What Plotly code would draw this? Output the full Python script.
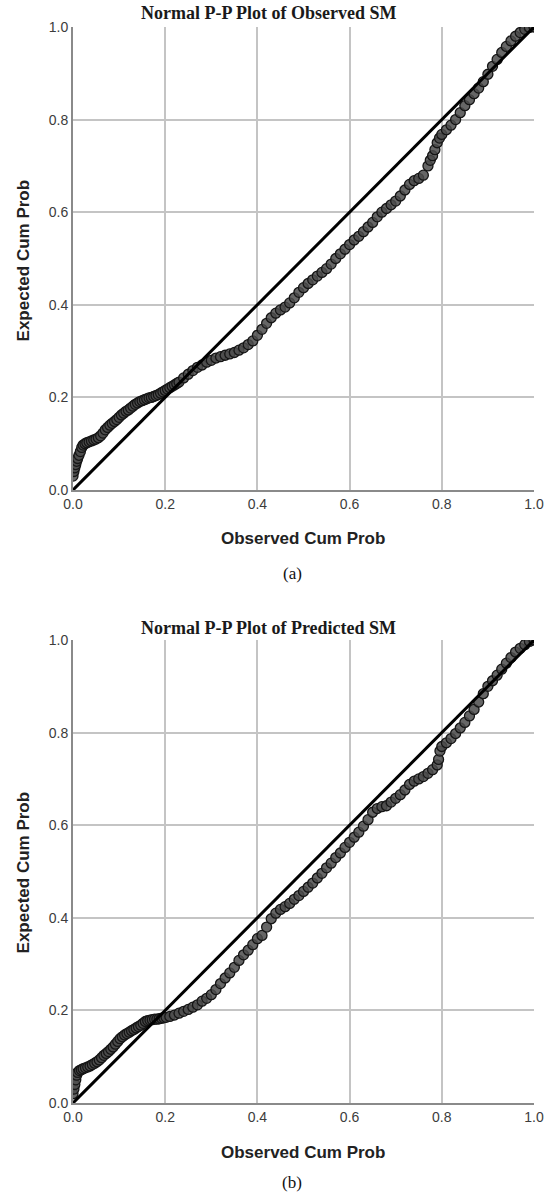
import plotly.graph_objects as go

# ---- data ----
obs_a_x = [0.000, 0.002, 0.004, 0.006, 0.008, 0.010, 0.013, 0.016, 0.019, 0.022, 0.026, 0.030, 0.035, 0.040,
           0.045, 0.050, 0.055, 0.060, 0.065, 0.070, 0.075, 0.080, 0.085, 0.090, 0.095, 0.100, 0.105, 0.110,
           0.115, 0.120, 0.125, 0.130, 0.135, 0.140, 0.145, 0.150, 0.155, 0.160, 0.165, 0.170, 0.175, 0.180,
           0.185, 0.190, 0.195, 0.200, 0.205, 0.210, 0.215, 0.220, 0.225, 0.230, 0.240, 0.250, 0.260, 0.270,
           0.280, 0.290, 0.300, 0.310, 0.320, 0.330, 0.340, 0.350, 0.360, 0.370, 0.380, 0.390, 0.400, 0.410,
           0.420, 0.430, 0.440, 0.450, 0.460, 0.470, 0.480, 0.490, 0.500, 0.510, 0.520, 0.530, 0.540, 0.550,
           0.560, 0.570, 0.580, 0.590, 0.600, 0.610, 0.620, 0.630, 0.640, 0.650, 0.660, 0.670, 0.680, 0.690,
           0.700, 0.710, 0.720, 0.730, 0.740, 0.750, 0.760, 0.770, 0.775, 0.780, 0.785, 0.790, 0.795, 0.800,
           0.810, 0.820, 0.830, 0.840, 0.850, 0.860, 0.870, 0.880, 0.890, 0.900, 0.910, 0.920, 0.930, 0.940,
           0.950, 0.960, 0.970, 0.980, 0.990, 1.000]
exp_a_y = [0.030, 0.040, 0.048, 0.055, 0.062, 0.068, 0.075, 0.083, 0.092, 0.097, 0.100, 0.102, 0.104, 0.106,
           0.108, 0.110, 0.113, 0.117, 0.123, 0.130, 0.135, 0.140, 0.144, 0.148, 0.152, 0.157, 0.162, 0.166,
           0.170, 0.173, 0.177, 0.181, 0.185, 0.188, 0.191, 0.193, 0.195, 0.197, 0.199, 0.200, 0.202, 0.204,
           0.206, 0.209, 0.212, 0.215, 0.218, 0.221, 0.224, 0.227, 0.230, 0.233, 0.242, 0.250, 0.258, 0.265,
           0.270, 0.276, 0.280, 0.285, 0.288, 0.291, 0.294, 0.297, 0.302, 0.307, 0.314, 0.322, 0.334, 0.347,
           0.360, 0.372, 0.382, 0.389, 0.395, 0.404, 0.415, 0.427, 0.437, 0.446, 0.454, 0.462, 0.470, 0.478,
           0.488, 0.500, 0.510, 0.520, 0.530, 0.540, 0.548, 0.558, 0.568, 0.578, 0.590, 0.600, 0.608, 0.616,
           0.624, 0.635, 0.648, 0.660, 0.668, 0.673, 0.680, 0.700, 0.712, 0.722, 0.735, 0.750, 0.760, 0.768,
           0.778, 0.788, 0.800, 0.815, 0.830, 0.843, 0.856, 0.868, 0.882, 0.898, 0.915, 0.930, 0.945, 0.958,
           0.970, 0.980, 0.988, 0.995, 0.999, 1.000]

obs_b_x = [0.000, 0.002, 0.004, 0.006, 0.008, 0.010, 0.014, 0.018, 0.022, 0.027, 0.032, 0.037, 0.042, 0.047,
           0.052, 0.057, 0.062, 0.067, 0.072, 0.077, 0.082, 0.087, 0.092, 0.097, 0.102, 0.107, 0.112, 0.117,
           0.122, 0.127, 0.132, 0.137, 0.142, 0.147, 0.152, 0.157, 0.162, 0.167, 0.172, 0.177, 0.182, 0.187,
           0.192, 0.197, 0.202, 0.210, 0.220, 0.230, 0.240, 0.250, 0.260, 0.270, 0.280, 0.290, 0.300, 0.310,
           0.320, 0.330, 0.340, 0.350, 0.360, 0.370, 0.380, 0.390, 0.400, 0.410, 0.420, 0.430, 0.440, 0.450,
           0.460, 0.470, 0.480, 0.490, 0.500, 0.510, 0.520, 0.530, 0.540, 0.550, 0.560, 0.570, 0.580, 0.590,
           0.600, 0.610, 0.620, 0.630, 0.640, 0.650, 0.660, 0.670, 0.680, 0.690, 0.700, 0.710, 0.720, 0.730,
           0.740, 0.750, 0.760, 0.770, 0.780, 0.790, 0.793, 0.796, 0.800, 0.810, 0.820, 0.830, 0.840, 0.850,
           0.860, 0.870, 0.880, 0.890, 0.900, 0.910, 0.920, 0.930, 0.940, 0.950, 0.960, 0.970, 0.980, 0.990,
           1.000]
exp_b_y = [0.020, 0.030, 0.040, 0.050, 0.060, 0.066, 0.070, 0.072, 0.074, 0.076, 0.078, 0.080, 0.083, 0.086,
           0.089, 0.093, 0.098, 0.103, 0.107, 0.111, 0.116, 0.121, 0.127, 0.133, 0.139, 0.143, 0.147, 0.150,
           0.153, 0.156, 0.159, 0.162, 0.165, 0.168, 0.172, 0.176, 0.178, 0.179, 0.180, 0.181, 0.181, 0.182,
           0.183, 0.184, 0.185, 0.187, 0.190, 0.194, 0.198, 0.202, 0.207, 0.212, 0.220, 0.226, 0.234, 0.245,
           0.258, 0.270, 0.281, 0.293, 0.308, 0.320, 0.330, 0.342, 0.355, 0.362, 0.380, 0.398, 0.410, 0.418,
           0.424, 0.431, 0.440, 0.448, 0.457, 0.466, 0.475, 0.486, 0.496, 0.508, 0.518, 0.530, 0.540, 0.552,
           0.563, 0.574, 0.585, 0.598, 0.612, 0.628, 0.636, 0.640, 0.642, 0.650, 0.658, 0.666, 0.676, 0.688,
           0.695, 0.700, 0.705, 0.712, 0.720, 0.730, 0.742, 0.760, 0.770, 0.778, 0.787, 0.798, 0.810, 0.822,
           0.836, 0.850, 0.866, 0.884, 0.900, 0.912, 0.924, 0.937, 0.950, 0.962, 0.974, 0.982, 0.990, 0.997,
           1.000]

ref_line = [0.0, 1.0]
tick_vals = [0.0, 0.2, 0.4, 0.6, 0.8, 1.0]
tick_text = ["0.0", "0.2", "0.4", "0.6", "0.8", "1.0"]
titles = ["Normal P-P Plot of Observed SM", "Normal P-P Plot of Predicted SM"]
captions = ["(a)", "(b)"]
x_title = "Observed Cum Prob"
y_title = "Expected Cum Prob"

# ---- layout geometry (pixels) ----
W, H = 556, 1194
L, R, T, B = 73, 18, 27, 91
PW = W - L - R
PH = H - T - B


def px_x(p):
    return (p - L) / PW


def px_y(p):
    return (H - B - p) / PH


top_dom = [px_y(490), px_y(27)]
bot_dom = [px_y(1103), px_y(640)]

fig = go.Figure()

marker = dict(size=10, color="rgba(75,75,75,0.85)", line=dict(color="#151515", width=1.3))

fig.add_trace(go.Scatter(x=obs_a_x, y=exp_a_y, mode="markers", marker=marker,
                         xaxis="x", yaxis="y", showlegend=False))
fig.add_trace(go.Scatter(x=ref_line, y=ref_line, mode="lines", line=dict(color="black", width=3),
                         xaxis="x", yaxis="y", showlegend=False))
fig.add_trace(go.Scatter(x=obs_b_x, y=exp_b_y, mode="markers", marker=marker,
                         xaxis="x2", yaxis="y2", showlegend=False))
fig.add_trace(go.Scatter(x=ref_line, y=ref_line, mode="lines", line=dict(color="black", width=3),
                         xaxis="x2", yaxis="y2", showlegend=False))

axis_common = dict(range=[0, 1], tickvals=tick_vals, ticktext=tick_text,
                   showgrid=True, gridcolor="#c4c4c4", gridwidth=1.5,
                   zeroline=False, showline=True, linecolor="#8a8a8a", linewidth=2,
                   ticks="", tickfont=dict(family="Liberation Sans, Arial", size=14, color="#3c3c3c"),
                   fixedrange=True)

fig.update_layout(
    width=W, height=H,
    margin=dict(l=L, r=R, t=T, b=B),
    plot_bgcolor="white", paper_bgcolor="white",
    xaxis=dict(domain=[0, 1], anchor="y", **axis_common),
    yaxis=dict(domain=top_dom, anchor="x", **axis_common),
    xaxis2=dict(domain=[0, 1], anchor="y2", **axis_common),
    yaxis2=dict(domain=bot_dom, anchor="x2", **axis_common),
)

ann = []
# plot titles
for t, py in zip(titles, [13, 628]):
    ann.append(dict(text="<b>" + t + "</b>", x=px_x(270), y=px_y(py), xref="paper", yref="paper",
                    showarrow=False, xanchor="center", yanchor="middle",
                    font=dict(family="Liberation Serif, Times New Roman", size=18, color="#1a1a1a")))
# x titles
for py in [538, 1152]:
    ann.append(dict(text="<b>" + x_title + "</b>", x=px_x(305), y=px_y(py), xref="paper", yref="paper",
                    showarrow=False, xanchor="center", yanchor="middle",
                    font=dict(family="Liberation Sans, Arial", size=17, color="#222222")))
# y titles
for py in [260, 872]:
    ann.append(dict(text="<b>" + y_title + "</b>", x=px_x(23), y=px_y(py), xref="paper", yref="paper",
                    showarrow=False, xanchor="center", yanchor="middle", textangle=-90,
                    font=dict(family="Liberation Sans, Arial", size=17, color="#222222")))
# captions
for c, py in zip(captions, [573, 1182]):
    ann.append(dict(text=c, x=px_x(294), y=px_y(py), xref="paper", yref="paper",
                    showarrow=False, xanchor="center", yanchor="middle",
                    font=dict(family="Liberation Serif, Times New Roman", size=17, color="#111111")))
fig.update_layout(annotations=ann)

fig.write_html("out.html", config={"displayModeBar": False},
               post_script="document.body.style.margin='0px';document.body.style.overflow='hidden';")
